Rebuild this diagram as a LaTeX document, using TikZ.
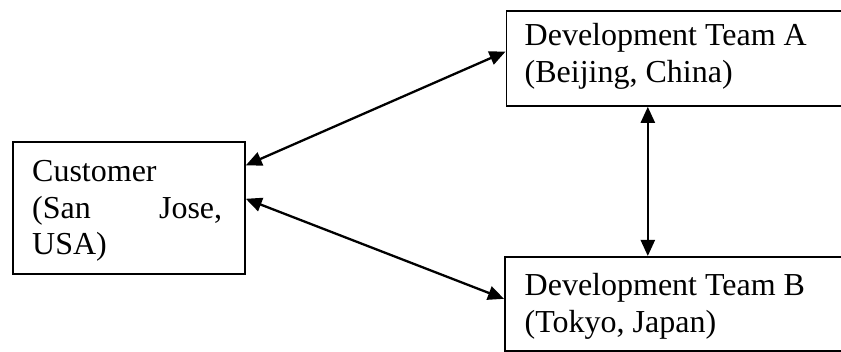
\documentclass[tikz,border=0pt]{standalone}
\usepackage{fontspec}
\setmainfont{Liberation Serif}
\usetikzlibrary{arrows.meta,calc}

\tikzset{
  box/.style={draw, line width=1.8pt, rectangle, inner sep=0pt, anchor=north west},
  boxtext/.style={anchor=north west, inner sep=0pt, align=left,
    font=\fontsize{32}{36.7}\selectfont},
  link/.style={line width=2.3pt, {Triangle[length=16pt,width=14pt]}-{Triangle[length=16pt,width=14pt]}}
}

\begin{document}
\begin{tikzpicture}[x=1pt, y=-1pt]
  \useasboundingbox (0,0) rectangle (841,352);
  \clip (0,0) rectangle (841,352);

  % the three sites
  \node[box, minimum width=232pt, minimum height=132pt] (cust) at (12,141) {};
  \node[box, minimum width=365pt, minimum height=95pt]  (teama) at (505.5,10) {};
  \node[box, minimum width=366pt, minimum height=94pt]  (teamb) at (504,256) {};

  % labels (north west corner = first baseline minus ascender)
  \node[boxtext, text width=190pt] (custlabel) at (32,160)
    {Customer\\(San\hfill Jose,\\USA)};
  \node[boxtext] (teamalabel) at (524.5,23.5)
    {Development Team A\\(Beijing, China)};
  \node[boxtext] (teamblabel) at (524.5,273)
    {Development Team B\\(Tokyo, Japan)};

  % communication links
  \draw[link] ($(cust.north east)!0.182!(cust.south east)$)
           -- ($(teama.north west)!0.43!(teama.south west)$);
  \draw[link] ($(cust.north east)!0.432!(cust.south east)$)
           -- ($(teamb.north west)!0.447!(teamb.south west)$);
  \coordinate (abot) at ($(teama.south west)!0.388!(teama.south east)$);
  \draw[link] (abot) -- (abot |- teamb.north);
\end{tikzpicture}
\end{document}
